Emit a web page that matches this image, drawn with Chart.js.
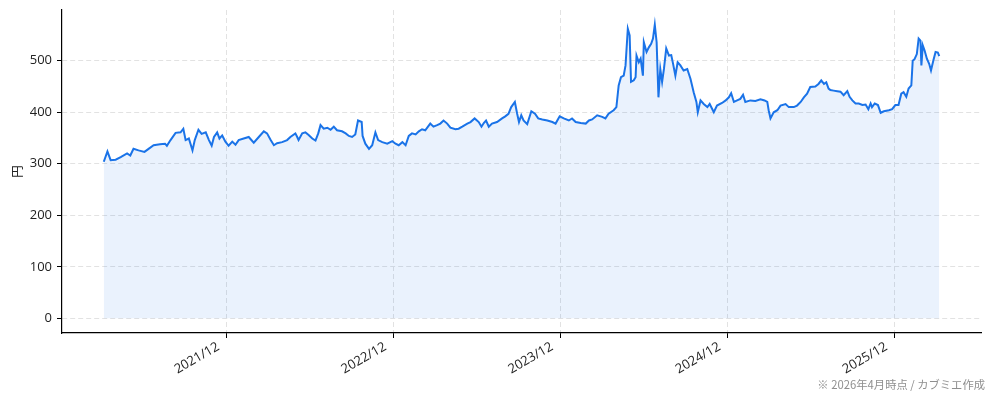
<!DOCTYPE html>
<html lang="ja">
<head>
<meta charset="utf-8">
<title>株価推移</title>
<script src="https://cdn.jsdelivr.net/npm/chart.js@4.4.1/dist/chart.umd.min.js"></script>
<style>
  html, body { margin: 0; padding: 0; background: #fff; }
  #wrap { width: 994px; height: 401px; }
</style>
</head>
<body>
<div id="wrap"><canvas id="priceChart" width="994" height="401"></canvas></div>
<script>
// 日付と終値（チャートから読み取り）
const dates = [
  '2021-03-08','2021-03-16','2021-03-23','2021-04-03','2021-04-14','2021-04-28','2021-05-05','2021-05-12',
  '2021-05-23','2021-06-05','2021-06-14','2021-06-25','2021-07-09','2021-07-20','2021-07-24','2021-08-01',
  '2021-08-12','2021-08-23','2021-08-29','2021-09-03','2021-09-10','2021-09-18','2021-09-23','2021-10-01',
  '2021-10-08','2021-10-17','2021-10-24','2021-10-30','2021-11-04','2021-11-11','2021-11-16','2021-11-22',
  '2021-11-29','2021-12-06','2021-12-14','2021-12-21','2021-12-28',
  '2022-01-08','2022-01-19','2022-01-30','2022-02-10','2022-02-21','2022-02-28','2022-03-08','2022-03-15',
  '2022-03-22','2022-04-02','2022-04-13','2022-04-20','2022-05-01','2022-05-05','2022-05-08','2022-05-16',
  '2022-05-23','2022-05-30','2022-06-07','2022-06-14','2022-06-20','2022-06-25','2022-07-02','2022-07-10',
  '2022-07-17','2022-07-24','2022-07-31','2022-08-11','2022-08-19','2022-08-26','2022-09-02','2022-09-09',
  '2022-09-15','2022-09-23','2022-09-25','2022-10-01','2022-10-09','2022-10-16','2022-10-23','2022-10-29',
  '2022-11-07','2022-11-18','2022-11-29','2022-12-06','2022-12-13','2022-12-21','2022-12-28',
  '2023-01-04','2023-01-11','2023-01-19','2023-01-26','2023-02-02','2023-02-09','2023-02-20','2023-02-27',
  '2023-03-07','2023-03-14','2023-03-21','2023-03-29','2023-04-05','2023-04-16','2023-04-23','2023-05-01',
  '2023-05-12','2023-05-19','2023-05-28','2023-06-06','2023-06-12','2023-06-17','2023-06-22','2023-06-28',
  '2023-07-05','2023-07-16','2023-07-27','2023-08-03','2023-08-10','2023-08-16','2023-08-24','2023-08-29',
  '2023-09-02','2023-09-07','2023-09-12','2023-09-20','2023-09-29','2023-10-07','2023-10-14','2023-10-23',
  '2023-11-03','2023-11-14','2023-11-21','2023-11-30','2023-12-09','2023-12-20','2023-12-27',
  '2024-01-04','2024-01-15','2024-01-26','2024-02-02','2024-02-09','2024-02-20','2024-03-02','2024-03-09',
  '2024-03-16','2024-03-27','2024-04-02','2024-04-07','2024-04-12','2024-04-18','2024-04-22','2024-04-27',
  '2024-05-01','2024-05-04','2024-05-10','2024-05-14','2024-05-16','2024-05-21','2024-05-25','2024-05-30',
  '2024-06-01','2024-06-07','2024-06-12','2024-06-17','2024-06-21','2024-06-25','2024-06-29','2024-07-03',
  '2024-07-07','2024-07-11','2024-07-15','2024-07-20','2024-07-26','2024-07-31','2024-08-04','2024-08-09',
  '2024-08-14','2024-08-20','2024-08-27','2024-09-04','2024-09-11','2024-09-18','2024-09-24','2024-09-27',
  '2024-10-03','2024-10-10','2024-10-18','2024-10-23','2024-11-01','2024-11-08','2024-11-19','2024-11-27',
  '2024-12-04','2024-12-09','2024-12-15','2024-12-22','2024-12-29',
  '2025-01-04','2025-01-09','2025-01-20','2025-01-31','2025-02-11','2025-02-20','2025-02-26','2025-03-01',
  '2025-03-05','2025-03-12','2025-03-20','2025-03-27','2025-04-07','2025-04-14','2025-04-25','2025-05-02',
  '2025-05-10','2025-05-17','2025-05-24','2025-05-31','2025-06-11','2025-06-18','2025-06-24','2025-06-30',
  '2025-07-05','2025-07-10','2025-07-14','2025-07-21','2025-07-29','2025-08-05','2025-08-12','2025-08-20',
  '2025-08-25','2025-08-31','2025-09-07','2025-09-14','2025-09-22','2025-09-29','2025-10-05','2025-10-10',
  '2025-10-13','2025-10-19','2025-10-26','2025-11-01','2025-11-08','2025-11-19','2025-11-26','2025-12-03',
  '2025-12-10','2025-12-16','2025-12-21','2025-12-27',
  '2026-01-01','2026-01-07','2026-01-10','2026-01-14','2026-01-19','2026-01-23','2026-01-27','2026-01-29',
  '2026-02-01','2026-02-05','2026-02-10','2026-02-15','2026-02-19','2026-02-24','2026-03-01','2026-03-06',
  '2026-03-09'
];
const prices = [
  304,324,307,308,313,320,316,329,
  326,323,329,336,338,339,335,346,
  360,361,368,346,349,326,346,366,
  358,361,346,335,352,361,349,355,
  343,335,343,337,346,
  349,352,341,352,363,359,346,336,
  340,342,346,352,359,352,346,359,
  361,356,349,345,359,375,368,370,
  366,372,365,363,359,354,352,357,
  384,381,354,339,329,336,361,346,
  342,339,344,339,336,342,336,
  354,359,357,363,367,365,378,372,
  375,378,384,378,370,367,368,372,
  378,381,388,381,372,379,384,372,
  378,381,388,392,397,410,420,397,
  381,394,384,377,402,397,388,386,
  384,381,378,392,388,384,388,
  381,379,378,384,386,394,391,388,
  397,404,410,452,468,471,491,562,
  549,459,462,468,510,497,504,471,
  536,517,526,533,543,570,536,429,
  484,459,484,524,510,511,494,471,
  497,491,481,484,465,439,420,400,
  423,416,410,416,400,413,418,423,
  429,437,420,423,426,
  434,420,423,422,425,423,420,404,
  388,400,404,413,416,410,410,413,
  420,429,436,449,450,455,462,455,
  458,446,443,442,441,440,433,441,
  430,423,417,417,414,415,406,417,
  410,417,414,399,402,404,406,414,
  414,436,439,430,
  446,452,500,503,513,543,539,491,
  530,520,504,494,481,500,517,516,
  509
];
const yTicks = [0, 100, 200, 300, 400, 500];
const xTickDates = ['2021-12-01', '2022-12-01', '2023-12-01', '2024-12-01', '2025-12-01'];
const xTickLabels = ['2021/12', '2022/12', '2023/12', '2024/12', '2025/12'];
const yTitle = '円';
const note = '※ 2026年4月時点 / カブミエ作成';

const lineColor = '#1a73e8';
const fillColor = 'rgba(26,115,232,0.09)';
const gridColor = '#e2e2e2';
const cjkFont = '"Noto Sans CJK JP", "DejaVu Sans", sans-serif';
const tickFont = '"Open Sans", "Noto Sans CJK JP", sans-serif';

// 日付 -> 通算日
const toDay = s => Date.parse(s) / 86400000;
const points = dates.map((d, i) => ({ x: toDay(d), y: prices[i] }));

// matplotlib風に5%の余白
const xFirst = points[0].x, xLast = points[points.length - 1].x;
const xPad = (xLast - xFirst) * 0.05;
const yTop = Math.max(...prices);
const yPad = yTop * 0.05;

const notePlugin = {
  id: 'note',
  afterDraw(chart) {
    const ctx = chart.ctx;
    ctx.save();
    ctx.font = '11.3px ' + cjkFont;
    ctx.fillStyle = '#8f8f8f';
    ctx.textAlign = 'right';
    ctx.textBaseline = 'middle';
    ctx.fillText(note, 985, 385);
    ctx.restore();
  }
};

Chart.defaults.font.family = cjkFont;
Chart.defaults.color = '#222';

new Chart(document.getElementById('priceChart'), {
  type: 'line',
  data: {
    datasets: [{
      data: points,
      borderColor: lineColor,
      backgroundColor: fillColor,
      borderWidth: 2,
      pointRadius: 0,
      tension: 0,
      fill: 'origin'
    }]
  },
  options: {
    responsive: false,
    animation: false,
    events: [],
    layout: { padding: { left: 0, right: 13, top: 10, bottom: 0 } },
    plugins: {
      legend: { display: false },
      tooltip: { enabled: false }
    },
    scales: {
      x: {
        type: 'linear',
        min: xFirst - xPad,
        max: xLast + xPad,
        afterBuildTicks: axis => {
          axis.ticks = xTickDates.map(d => ({ value: toDay(d) }));
        },
        afterFit: axis => {
          axis.height = 68;
          axis.paddingLeft = 0;
          axis.paddingRight = 0;
        },
        ticks: {
          autoSkip: false,
          minRotation: 30,
          maxRotation: 30,
          padding: 1,
          labelOffset: -8,
          font: { family: tickFont, size: 13 },
          callback: (v, i) => xTickLabels[i]
        },
        grid: { color: gridColor, tickColor: '#000', tickLength: 5, lineWidth: 1 },
        border: { display: true, color: '#000', width: 1.2, dash: [5, 3] }
      },
      y: {
        type: 'linear',
        min: -yPad,
        max: yTop + yPad,
        afterBuildTicks: axis => {
          axis.ticks = yTicks.map(v => ({ value: v }));
        },
        afterFit: axis => {
          axis.width = 62;
          axis.paddingTop = 0;
          axis.paddingBottom = 0;
        },
        ticks: {
          padding: 5,
          font: { family: tickFont, size: 13 },
          callback: v => String(v)
        },
        title: {
          display: true,
          text: yTitle,
          font: { size: 12.5 },
          padding: { top: 10, bottom: 0 }
        },
        grid: { color: gridColor, tickColor: '#000', tickLength: 5, lineWidth: 1 },
        border: { display: true, color: '#000', width: 1.2, dash: [5, 3] }
      }
    }
  },
  plugins: [notePlugin]
});
</script>
</body>
</html>
